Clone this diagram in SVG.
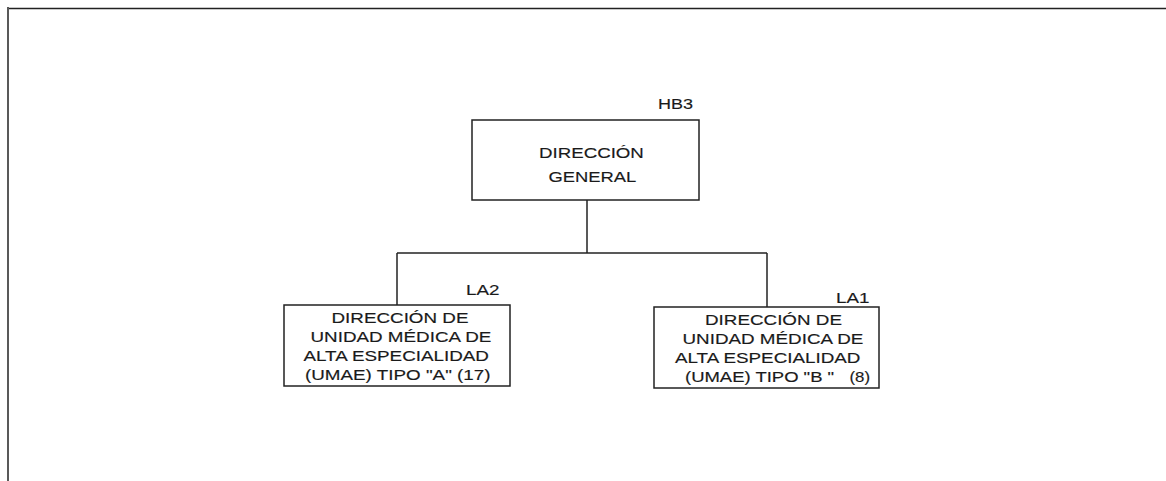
<svg xmlns="http://www.w3.org/2000/svg" width="1166" height="481" viewBox="0 0 1166 481">
<style>
.box{fill:#fff;stroke:#222;stroke-width:1.5}
.ln{fill:none;stroke:#222;stroke-width:1.5}
.t{font-family:"Liberation Sans",Arial,sans-serif;font-size:14px;fill:#1a1a1a;stroke:#1a1a1a;stroke-width:0.15}
.tm{font-family:"Liberation Sans",Arial,sans-serif;font-size:15px;fill:#1a1a1a;stroke:#1a1a1a;stroke-width:0.15}
</style>
<rect width="1166" height="481" fill="#fff"/>
<g id="frame">
<line class="ln" x1="8" y1="7" x2="8" y2="481"/>
<line class="ln" x1="9" y1="8.5" x2="1166" y2="8.5"/>
</g>
<g id="connectors">
<path class="ln" d="M587,200 V253"/>
<path class="ln" d="M397,253 H767"/>
<path class="ln" d="M397,253 V305"/>
<path class="ln" d="M767,253 V307"/>
</g>
<g id="node-direccion-general">
<rect class="box" x="472" y="120" width="227" height="80"/>
<text class="tm" transform="matrix(1.2 0 0 1 658 109)">HB3</text>
<text class="tm" transform="matrix(1.247 0 0 1 539 158)">DIRECCIÓN</text>
<text class="tm" transform="matrix(1.227 0 0 1 548.5 182)">GENERAL</text>
</g>
<g id="node-umae-a">
<rect class="box" x="284" y="305" width="226" height="81"/>
<text class="t" transform="matrix(1.345 0 0 1 466 295)">LA2</text>
<text class="t" transform="matrix(1.345 0 0 1 331.5 322.5)">DIRECCIÓN DE</text>
<text class="t" transform="matrix(1.345 0 0 1 310.5 342)">UNIDAD MÉDICA DE</text>
<text class="t" transform="matrix(1.345 0 0 1 303.5 361)">ALTA ESPECIALIDAD</text>
<text class="t" transform="matrix(1.345 0 0 1 305 379.5)">(UMAE) TIPO "A" (17)</text>
</g>
<g id="node-umae-b">
<rect class="box" x="654" y="307" width="225" height="81"/>
<text class="t" transform="matrix(1.345 0 0 1 836 302.5)">LA1</text>
<text class="t" transform="matrix(1.345 0 0 1 705 325)">DIRECCIÓN DE</text>
<text class="t" transform="matrix(1.345 0 0 1 682.5 344)">UNIDAD MÉDICA DE</text>
<text class="t" transform="matrix(1.345 0 0 1 675 363)">ALTA ESPECIALIDAD</text>
<text class="t" transform="matrix(1.32 0 0 1 685 382)">(UMAE) TIPO "B "</text>
<text class="t" transform="matrix(1.2 0 0 1 849.5 382)">(8)</text>
</g>
</svg>
